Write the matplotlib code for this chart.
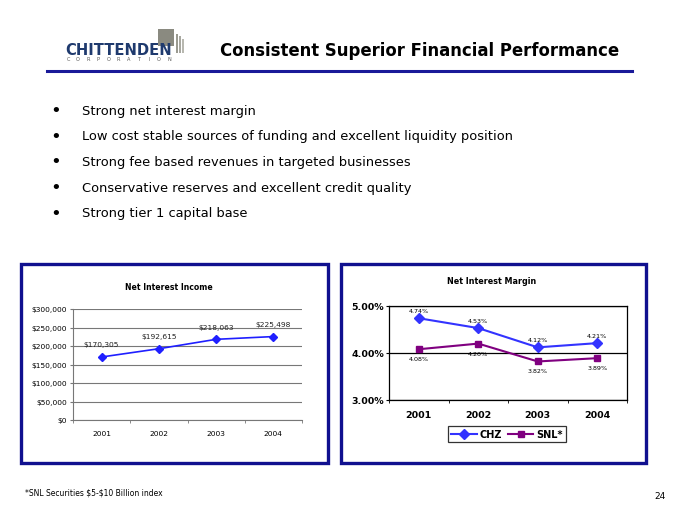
import matplotlib
matplotlib.use("Agg")
import matplotlib.pyplot as plt
from matplotlib.patches import Rectangle
from matplotlib.lines import Line2D
from matplotlib.ticker import FuncFormatter

# data
years = ["2001", "2002", "2003", "2004"]
nii = [170305, 192615, 218063, 225498]
chz = [4.74, 4.53, 4.12, 4.21]
snl = [4.08, 4.20, 3.82, 3.89]
bullets = [
    "Strong net interest margin",
    "Low cost stable sources of funding and excellent liquidity position",
    "Strong fee based revenues in targeted businesses",
    "Conservative reserves and excellent credit quality",
    "Strong tier 1 capital base",
]

W, H = 680, 510
fig = plt.figure(figsize=(6.8, 5.1), dpi=100)
fig.patch.set_facecolor("white")


def fx(x):
    return x / W


def fy(y):
    return 1 - y / H


# header: logo + title + rule
for x0, x1, y0, y1, c in [(158, 174, 30, 47, "#8a8a80"), (176, 178, 35, 54, "#9a9a90"),
                          (179, 181, 37, 54, "#a8a8a0"), (182, 184, 40, 54, "#b8b8b0")]:
    fig.add_artist(Rectangle((fx(x0), fy(y1)), fx(x1 - x0), (y1 - y0) / H,
                             transform=fig.transFigure, color=c, lw=0))
fig.text(fx(65), fy(50.5), "CHITTENDEN", fontsize=10.6, fontweight="bold",
         color="#1f3a6e", va="center", ha="left")
for i, ch in enumerate("CORPORATION"):
    fig.text(fx(68 + i * 10.1), fy(59.5), ch, fontsize=3.6, color="#555555",
             va="center", ha="center")
fig.text(fx(220), fy(51), "Consistent Superior Financial Performance",
         fontsize=11.9, fontweight="bold", color="black", va="center", ha="left")
fig.add_artist(Line2D([fx(47), fx(632)], [fy(72), fy(72)],
                      transform=fig.transFigure, color="#1a1a99", lw=2.2))

# bullets
for i, b in enumerate(bullets):
    y = 111 + i * 25.7
    fig.text(fx(56), fy(y), "\u2022", fontsize=13, va="center", ha="center")
    fig.text(fx(82), fy(y), b, fontsize=9.4, va="center", ha="left")

# panel frames
for x0, x1 in [(21, 328), (341, 646)]:
    fig.add_artist(Rectangle((fx(x0), fy(464)), fx(x1 - x0), (464 - 265) / H,
                             transform=fig.transFigure, fill=False,
                             ec="#10108f", lw=2.4))

# left chart: net interest income
ax1 = fig.add_axes([fx(73), fy(421), fx(302 - 73), (421 - 310) / H])
xs = range(1, len(years) + 1)
ax1.plot(xs, nii, color="#1f1fff", lw=1.2, marker="D", ms=4.5)
ax1.set_xlim(0.5, 4.5)
ax1.set_ylim(0, 300000)
ax1.set_yticks(range(0, 300001, 50000))
ax1.yaxis.set_major_formatter(FuncFormatter(lambda v, p: f"${v:,.0f}"))
ax1.set_xticks(list(xs))
ax1.set_xticklabels(years)
ax1.set_xticks([0.5, 1.5, 2.5, 3.5, 4.5], minor=True)
ax1.tick_params(axis="x", which="major", length=0, labelsize=5.4, pad=7)
ax1.tick_params(axis="x", which="minor", length=2.5, color="#777777")
ax1.tick_params(axis="y", length=2.5, color="#777777", labelsize=5.4, pad=2)
ax1.grid(axis="y", color="#777777", lw=0.8)
ax1.set_axisbelow(True)
for s in ["top", "right"]:
    ax1.spines[s].set_visible(False)
for s in ["left", "bottom"]:
    ax1.spines[s].set_color("#777777")
    ax1.spines[s].set_linewidth(0.8)
for x, v in zip(xs, nii):
    ax1.annotate(f"${v:,.0f}", (x, v), xytext=(0, 7), textcoords="offset points",
                 ha="center", va="bottom", fontsize=5.4, color="#222222")
fig.text(fx(169), fy(287), "Net Interest Income", fontsize=5.6,
         fontweight="bold", ha="center", va="center")

# right chart: net interest margin
ax2 = fig.add_axes([fx(389), fy(401), fx(627 - 389), (401 - 307) / H])
ax2.plot(xs, chz, color="#3333ff", lw=1.5, marker="D", ms=5, label="CHZ")
ax2.plot(xs, snl, color="#800080", lw=1.5, marker="s", ms=5, label="SNL*")
ax2.set_xlim(0.5, 4.5)
ax2.set_ylim(3.0, 5.0)
ax2.set_yticks([3.0, 4.0, 5.0])
ax2.yaxis.set_major_formatter(FuncFormatter(lambda v, p: f"{v:.2f}%"))
ax2.set_xticks(list(xs))
ax2.set_xticklabels(years)
ax2.set_xticks([0.5, 1.5, 2.5, 3.5, 4.5], minor=True)
ax2.tick_params(axis="x", which="major", length=0, labelsize=6.8, pad=7)
ax2.tick_params(axis="x", which="minor", length=2.5)
ax2.tick_params(axis="y", length=2.5, labelsize=6.8, pad=1)
for lab in ax2.get_xticklabels() + ax2.get_yticklabels():
    lab.set_fontweight("bold")
ax2.grid(axis="y", color="black", lw=0.9)
for s in ax2.spines.values():
    s.set_linewidth(0.9)
for x, v in zip(xs, chz):
    ax2.annotate(f"{v:.2f}%", (x, v), xytext=(0, 4), textcoords="offset points",
                 ha="center", va="bottom", fontsize=4.6)
for x, v in zip(xs, snl):
    ax2.annotate(f"{v:.2f}%", (x, v), xytext=(0, -5), textcoords="offset points",
                 ha="center", va="top", fontsize=4.6)
fig.text(fx(492), fy(282), "Net Interest Margin", fontsize=5.8,
         fontweight="bold", ha="center", va="center")
leg = ax2.legend(loc="center", bbox_to_anchor=(fx(507), fy(435)),
                 bbox_transform=fig.transFigure, ncol=2, frameon=True,
                 fancybox=False, edgecolor="black", handlelength=2.6,
                 columnspacing=0.6, handletextpad=0.3, borderpad=0.3,
                 prop={"weight": "bold", "size": 7})
leg.get_frame().set_linewidth(0.9)

# footer
fig.text(fx(25), fy(493), r"*SNL Securities \$5-\$10 Billion index",
         fontsize=5.5, ha="left", va="center")
fig.text(fx(660), fy(497), "24", fontsize=6.5, ha="center", va="center")

fig.savefig("out.png", dpi=100)
